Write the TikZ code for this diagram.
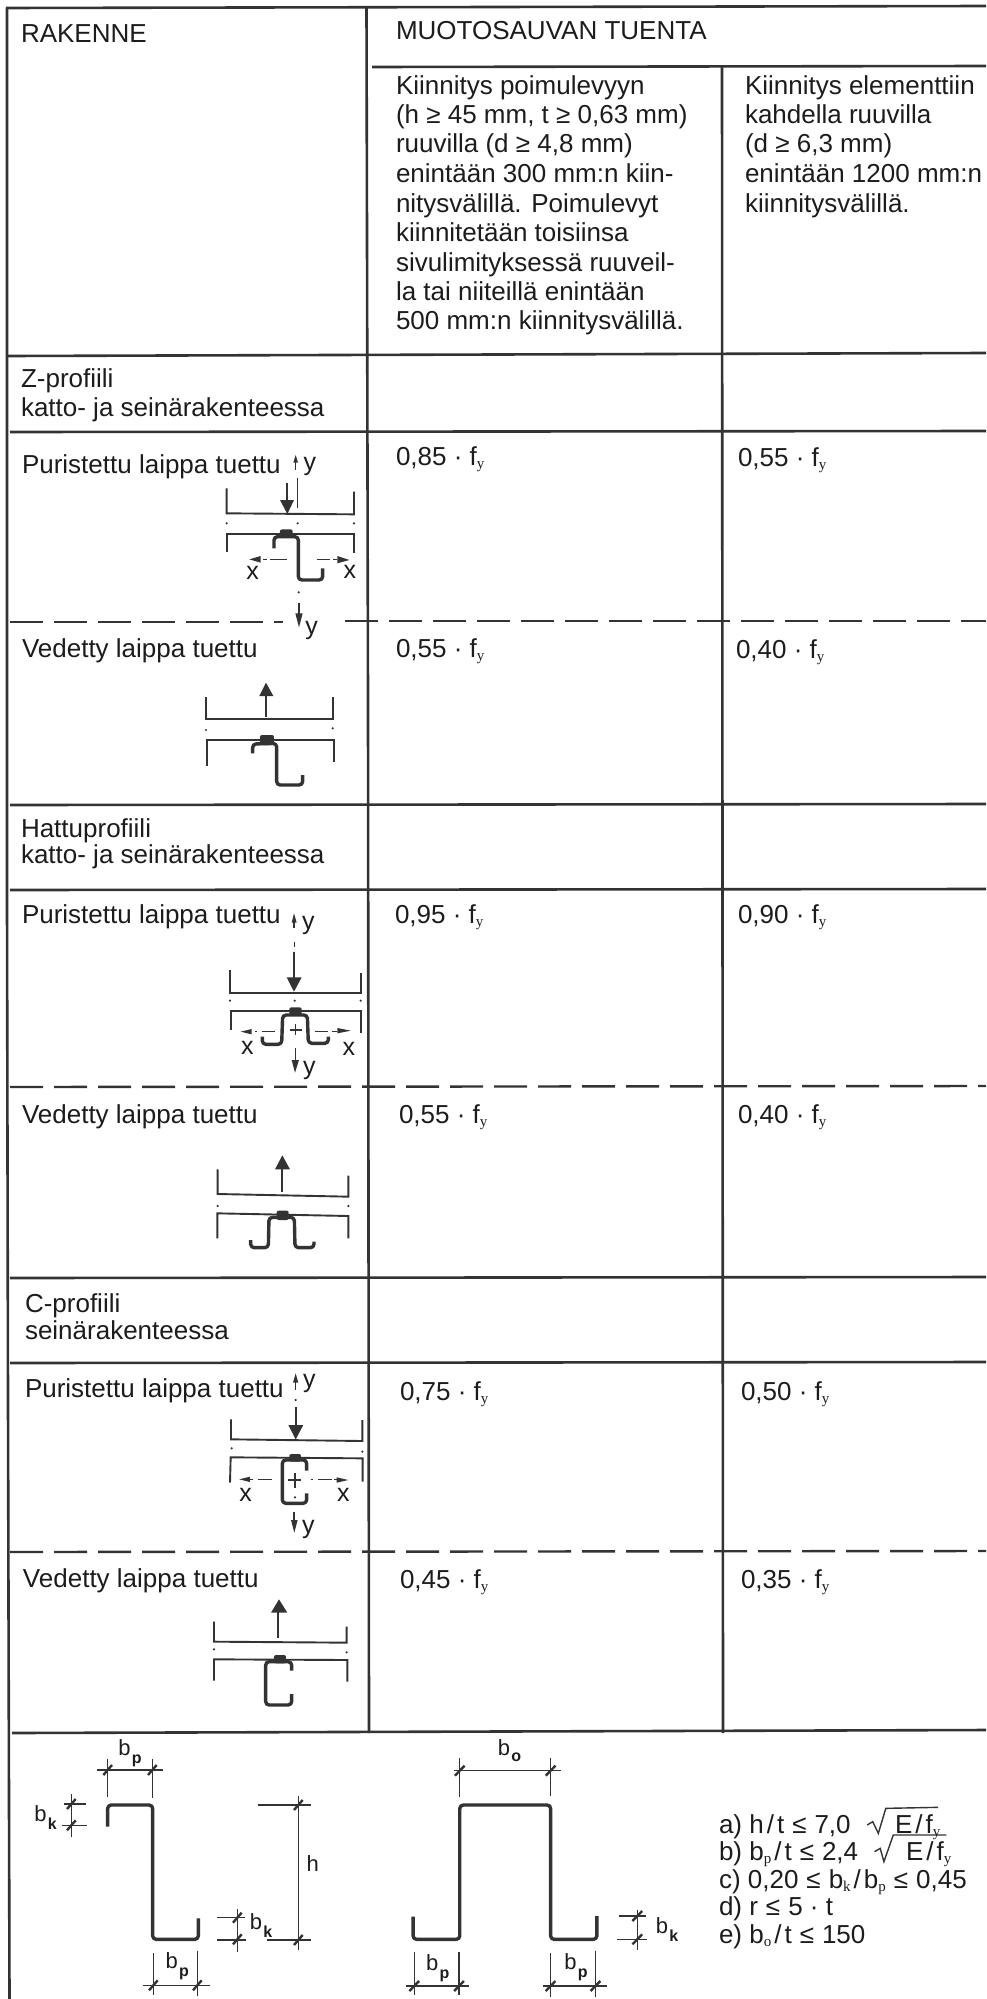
\documentclass[tikz,border=0pt]{standalone}
\usepackage{fontspec}
\usepackage{graphicx}
\setmainfont{Liberation Sans}
\newfontfamily\subf{Liberation Serif}
\definecolor{ink}{HTML}{333333}
\definecolor{tink}{HTML}{1c1c1c}
\tikzset{
  gridline/.style={draw=ink,line width=2.6pt},
  dashline/.style={draw=ink,line width=2.4pt,dash pattern=on 33pt off 11pt},
  thin line/.style={draw=ink,line width=1.9pt},
  dimline/.style={draw=ink,line width=1.4pt},
  axisdash/.style={draw=ink,line width=1.2pt},
  profile/.style={draw=ink,line width=3.4pt,rounded corners=3.5pt,line join=round},
  ticks/.style={draw=ink,line width=2.4pt},
  txt/.style={anchor=base west,inner sep=0pt,outer sep=0pt,text=tink,font=\fontsize{26}{29}\selectfont},
  axl/.style={anchor=center,inner sep=0pt,outer sep=0pt,text=tink,font=\fontsize{25}{25}\selectfont},
  diml/.style={anchor=base west,inner sep=0pt,outer sep=0pt,text=tink,font=\fontsize{22}{22}\selectfont},
  zoomxy/.style={x=0.33333pt,y=-0.33333pt},
  zoomf/.style={x=0.37369pt,y=-0.33333pt}
}
\newcommand\fy{f{\subf\fontsize{15}{15}\selectfont\raisebox{-3pt}{y}}}
\newcommand\sbs[1]{{\subf\fontsize{15}{15}\selectfont\raisebox{-3pt}{#1}}}
\newcommand\lle{\hspace{8pt}≤\hspace{8pt}}
\newcommand\sla{\hspace{3pt}/\hspace{3pt}}
\newcommand\tx[4]{\node[txt] (#1) at (#2,#3) {#4};}
\newcommand\dl[5]{\node[diml] (#1) at (#2,#3) {b\hspace{1.2pt}{\bfseries\fontsize{16}{16}\selectfont\raisebox{#5}{#4}}};}
\newcommand\tickat[2]{\draw[ticks] (#1-13,#2+15) -- (#1+13,#2-15);}
\newcommand\tri[3]{\fill[ink] (#1) -- (#2) -- (#3) -- cycle;}
\newcommand\blobb[2]{\fill[ink,rounded corners=2pt] (#1) rectangle (#2);}
\newcommand\dotat[1]{\fill[ink] (#1) circle (1.2pt);}
\begin{document}
\begin{tikzpicture}[x=1pt,y=-1pt]
\useasboundingbox (0,0) rectangle (986,1999);
\fill[white] (0,0) rectangle (986,1999);
% grid
\draw[gridline] (7,8) -- (7,900) -- (8,1400) -- (9.5,1999);
\draw[gridline] (366.5,7) -- (368,700) -- (369,1733);
\draw[gridline] (722,67) -- (723,1733);
\draw[gridline] (6,8) -- (986,6);
\draw[gridline] (372,67) -- (986,66);
\draw[gridline] (8,356) -- (986,353);
\draw[gridline] (10,432) -- (986,431);
\draw[gridline] (10,805) -- (986,804);
\draw[gridline] (10,890) -- (986,889);
\draw[gridline] (10,1278) -- (986,1277);
\draw[gridline] (10,1363) -- (986,1362);
\draw[gridline] (12,1733) -- (986,1730);
\draw[dashline] (10,622) -- (283,622);
\draw[dashline] (345,621) -- (986,621);
\draw[dashline] (10,1087) -- (986,1086);
\draw[dashline] (10,1552) -- (986,1551);
% header text
\tx{rak}{21}{43}{RAKENNE}
\tx{muo}{396}{40}{MUOTOSAUVAN TUENTA}
\tx{a1}{396}{95}{Kiinnitys poimulevyyn}
\tx{a2}{396}{124}{(h ≥ 45 mm, t ≥ 0,63 mm)}
\tx{a3}{396}{153}{ruuvilla (d ≥ 4,8 mm)}
\tx{a4}{396}{182}{enintään 300 mm:n kiin-}
\tx{a5}{396}{212}{nitysvälillä. Poimulevyt}
\tx{a6}{396}{241}{kiinnitetään toisiinsa}
\tx{a7}{396}{271}{sivulimityksessä ruuveil-}
\tx{a8}{396}{300}{la tai niiteillä enintään}
\tx{a9}{396}{329}{500 mm:n kiinnitysvälillä.}
\tx{c1}{745}{95}{Kiinnitys elementtiin}
\tx{c2}{745}{124}{kahdella ruuvilla}
\tx{c3}{745}{153}{(d ≥ 6,3 mm)}
\tx{c4}{745}{182}{enintään 1200 mm:n}
\tx{c5}{745}{212}{kiinnitysvälillä.}
% row labels
\tx{z1}{21}{387}{Z-profiili}
\tx{z2}{21}{416}{katto- ja seinärakenteessa}
\tx{z3}{22}{473}{Puristettu laippa tuettu}
\tx{z4}{22}{657}{Vedetty laippa tuettu}
\tx{h1}{21}{837}{Hattuprofiili}
\tx{h2}{21}{863}{katto- ja seinärakenteessa}
\tx{h3}{22}{923}{Puristettu laippa tuettu}
\tx{h4}{22}{1123}{Vedetty laippa tuettu}
\tx{p1}{25}{1312}{C-profiili}
\tx{p2}{25}{1339}{seinärakenteessa}
\tx{p3}{25}{1397}{Puristettu laippa tuettu}
\tx{p4}{23}{1587}{Vedetty laippa tuettu}
% values
\tx{v1}{396}{465}{0,85 · \fy}
\tx{v2}{738}{466}{0,55 · \fy}
\tx{v3}{396}{657}{0,55 · \fy}
\tx{v4}{736}{658}{0,40 · \fy}
\tx{v5}{395}{923}{0,95 · \fy}
\tx{v6}{738}{923}{0,90 · \fy}
\tx{v7}{399}{1123}{0,55 · \fy}
\tx{v8}{738}{1123}{0,40 · \fy}
\tx{v9}{400}{1400}{0,75 · \fy}
\tx{v10}{741}{1400}{0,50 · \fy}
\tx{v11}{400}{1588}{0,45 · \fy}
\tx{v12}{741}{1588}{0,35 · \fy}
% Z diagrams
\begin{scope}[shift={(0,420)},zoomxy]
\draw[thin line] (680,205) -- (680,280) -- (1062,283) -- (1062,215);
\draw[thin line] (862,190) -- (862,250);
\tri{840,240}{882,240}{862,282}
\draw[axisdash] (893,175) -- (893,265);
\draw[axisdash] (887,125) -- (887,150);
\tri{880,128}{894,128}{887,105}
\node[axl] (zy1) at (930,140) {y};
\dotat{893,310}\dotat{680,310}\dotat{1062,310}\dotat{896,517}
\draw[thin line] (897,550) -- (897,590);
\tri{886,580}{908,580}{897,622}
\node[axl] (zy2) at (935,630) {y};
\draw[thin line] (680,395) -- (680,342) -- (1062,342) -- (1062,400);
\blobb{840,328}{878,352}
\draw[profile] (822,385) -- (822,350) -- (895,350) -- (895,480) -- (968,480) -- (968,445);
\tri{748,418}{782,408}{782,428}
\tri{1048,420}{1012,408}{1012,430}
\draw[axisdash] (790,418) -- (800,418) (810,418) -- (860,418) (950,418) -- (990,418) (1000,418) -- (1010,418);
\node[axl] (zx1) at (758,458) {x};
\node[axl] (zx2) at (1050,455) {x};
% lower
\draw[thin line] (798,890) -- (798,825);
\tri{778,828}{820,828}{798,788}
\draw[thin line] (618,832) -- (618,897) -- (998,897) -- (998,832);
\dotat{618,930}\dotat{998,925}
\draw[thin line] (620,1037) -- (620,960) -- (1002,960) -- (1002,1025);
\blobb{780,945}{822,975}
\draw[profile] (758,1000) -- (758,972) -- (830,970) -- (830,1095) -- (908,1095) -- (908,1065);
\end{scope}
% hat diagrams
\begin{scope}[shift={(0,880)},zoomxy]
\draw[axisdash] (882,125) -- (882,145);
\tri{875,128}{890,128}{882,100}
\node[axl] (hy1) at (925,135) {y};
\draw[axisdash] (884,185) -- (884,200);
\draw[thin line] (882,215) -- (882,295);
\tri{860,292}{905,292}{882,335}
\draw[thin line] (690,270) -- (690,338) -- (1082,338) -- (1082,280);
\dotat{690,362}\dotat{1082,362}\dotat{884,362}
\draw[thin line] (692,450) -- (692,393) -- (1082,393) -- (1082,458);
\blobb{868,382}{905,405}
\draw[profile] (787,470) -- (787,493) -- (845,493) -- (848,405) -- (922,405) -- (925,490) -- (985,490) -- (985,470);
\draw[axisdash] (870,450) -- (905,450) (886,432) -- (886,465);
\tri{722,455}{755,447}{755,463}
\tri{1052,452}{1012,444}{1012,460}
\draw[axisdash] (765,455) -- (772,455) (785,455) -- (825,455) (945,455) -- (985,455) (995,455) -- (1012,455);
\node[axl] (hx1) at (742,505) {x};
\node[axl] (hx2) at (1047,507) {x};
\draw[axisdash] (886,505) -- (886,540);
\tri{875,540}{897,540}{885,578}
\node[axl] (hy2) at (928,572) {y};
% lower
\draw[thin line] (847,935) -- (847,865);
\tri{825,868}{870,868}{847,826}
\draw[thin line] (653,868) -- (653,942) -- (1045,950) -- (1045,887);
\dotat{653,978}\dotat{1045,978}
\draw[thin line] (652,1075) -- (652,1000) -- (1045,1008) -- (1045,1075);
\blobb{830,992}{866,1020}
\draw[profile] (752,1080) -- (752,1103) -- (805,1103) -- (807,1012) -- (883,1012) -- (885,1103) -- (942,1103) -- (942,1085);
\end{scope}
% C diagrams
\begin{scope}[shift={(0,1340)},zoomxy]
\draw[axisdash] (887,125) -- (887,150);
\tri{879,128}{895,128}{887,100}
\node[axl] (py1) at (928,130) {y};
\dotat{887,180}
\draw[thin line] (887,200) -- (887,260);
\tri{865,255}{910,255}{887,298}
\draw[thin line] (693,238) -- (693,298) -- (1087,303) -- (1087,240);
\dotat{695,325}\dotat{1087,335}
\draw[thin line] (690,428) -- (692,352) -- (1088,355) -- (1088,425);
\blobb{868,342}{903,365}
\draw[profile] (920,392) -- (920,360) -- (847,360) -- (847,490) -- (920,490) -- (920,460);
\draw[axisdash] (865,420) -- (902,420) (885,400) -- (885,445);
\dotat{885,472}
\tri{718,418}{750,410}{750,426}
\tri{1045,420}{1010,412}{1010,428}
\draw[axisdash] (750,418) -- (760,418) (775,418) -- (815,418) (932,418) -- (938,418) (955,418) -- (995,418) (1003,418) -- (1010,418);
\node[axl] (px1) at (737,465) {x};
\node[axl] (px2) at (1030,465) {x};
\draw[thin line] (883,515) -- (883,545);
\tri{873,540}{893,540}{883,578}
\node[axl] (py2) at (925,568) {y};
% lower
\draw[thin line] (835,895) -- (835,815);
\tri{813,818}{862,818}{837,778}
\draw[thin line] (642,845) -- (642,905) -- (1040,908) -- (1040,860);
\dotat{642,928}\dotat{1040,937}
\draw[thin line] (642,1022) -- (642,958) -- (1042,960) -- (1042,1025);
\blobb{822,945}{858,970}
\draw[profile] (875,992) -- (875,965) -- (797,965) -- (797,1095) -- (875,1095) -- (875,1062);
\end{scope}
% bottom Z section
\begin{scope}[shift={(0,1700)},zoomxy]
\draw[profile] (323,380) -- (323,315) -- (458,315) -- (458,718) -- (595,718) -- (595,655);
\draw[dimline] (292,210) -- (490,210) (323,178) -- (323,290) (457,178) -- (457,295);
\tickat{323}{210}\tickat{457}{210}
\dl{d1}{355}{165}{p}{-8pt}
\draw[dimline] (192,312) -- (258,312) (187,376) -- (260,376) (214,283) -- (214,410);
\tickat{214}{312}\tickat{214}{376}
\dl{d2}{103}{365}{k}{-8pt}
\draw[dimline] (773,315) -- (932,315) (895,288) -- (895,750) (800,720) -- (932,720);
\tickat{895}{315}\tickat{895}{720}
\node[diml] (dh) at (920,515) {h};
\draw[dimline] (652,653) -- (735,653) (652,720) -- (738,720) (712,628) -- (712,755);
\tickat{712}{653}\tickat{712}{718}
\dl{d3}{750}{688}{k}{-8pt}
\draw[dimline] (430,856) -- (630,856) (460,760) -- (460,885) (592,752) -- (592,888);
\tickat{460}{856}\tickat{592}{856}
\dl{d4}{497}{805}{p}{-8pt}
\end{scope}
% bottom hat section
\begin{scope}[shift={(400,1700)},zoomf]
\draw[profile] (35,650) -- (35,718) -- (160,718) -- (160,315) -- (403,315) -- (403,718) -- (527,718) -- (527,648);
\draw[dimline] (145,212) -- (430,212) (160,175) -- (160,290) (403,175) -- (403,288);
\tickat{160}{212}\tickat{403}{212}
\dl{d5}{262}{165}{o}{-6pt}
\draw[dimline] (15,858) -- (185,858) (38,755) -- (38,885) (158,755) -- (158,885);
\tickat{38}{858}\tickat{158}{858}
\dl{d6}{70}{810}{p}{-8pt}
\draw[dimline] (382,858) -- (555,858) (403,758) -- (403,890) (523,752) -- (523,890);
\tickat{403}{858}\tickat{523}{858}
\dl{d7}{440}{808}{p}{-8pt}
\draw[dimline] (585,648) -- (658,648) (582,718) -- (662,718) (635,630) -- (635,750);
\tickat{635}{648}\tickat{635}{718}
\dl{d8}{685}{700}{k}{-8pt}
\draw[dimline] (1250,375) -- (1265,365) -- (1280,400) -- (1300,325) -- (1440,322);
\draw[dimline] (1270,455) -- (1285,445) -- (1295,485) -- (1320,405) -- (1462,405);
\end{scope}
% formulas
\tikzset{txt/.append style={font=\fontsize{26}{29}\selectfont}}
\tx{f1}{719}{1833}{a) h\sla t\lle 7,0}
\tx{f1b}{895}{1833}{E\sla\fy}
\tx{f2}{719}{1860}{b) b\sbs{p}\sla t\lle 2,4}
\tx{f2b}{906}{1860}{E\sla\fy}
\tx{f3}{719}{1888}{c) 0,20\lle b\sbs{k}\sla b\sbs{p}\lle 0,45}
\tx{f4}{719}{1915}{d) r\lle 5 · t}
\tx{f5}{719}{1943}{e) b\sbs{o}\sla t\lle 150}
\end{tikzpicture}
\end{document}
